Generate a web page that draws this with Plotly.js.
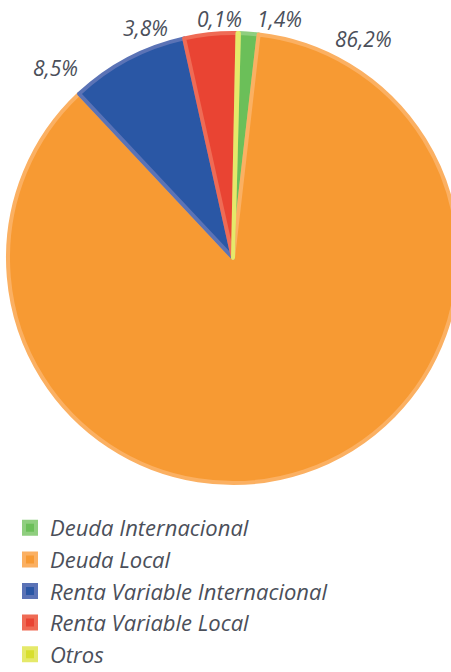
<!DOCTYPE html>
<html>
<head>
<meta charset="utf-8">
<script src="https://cdn.plot.ly/plotly-3.0.1.min.js"></script>
<style>
html,body{margin:0;padding:0;background:#fff;overflow:hidden;}
#chart{width:460px;height:690px;}
</style>
</head>
<body>
<div id="chart"></div>
<script>
const categories = ["Deuda Internacional", "Deuda Local", "Renta Variable Internacional", "Renta Variable Local", "Otros"];
const values = [1.4, 86.2, 8.5, 3.8, 0.1];
const colors = ["#6bbf59", "#f79a33", "#2a57a5", "#e94433", "#d8df2e"];
const borderColors = ["#8fce7f", "#fbb062", "#5b73b6", "#ef6b55", "#e5e96a"];

const labelText = values.map(v => v.toFixed(1).replace('.', ',') + '%');
// label anchor positions (pixels) for each slice label
const labelPos = [[279, 19], [363, 39], [55, 68], [145, 28], [219, 19]];

const W = 460, H = 690;
const txtColor = "#4b4f5a";
const fontFam = "'Open Sans', 'DejaVu Sans', sans-serif";

const trace = {
  type: "pie",
  labels: categories,
  values: values,
  sort: false,
  direction: "clockwise",
  rotation: 1.5,
  textinfo: "none",
  hoverinfo: "label+percent",
  marker: { colors: colors, line: { color: borderColors, width: 4 } },
  domain: { x: [8 / W, 458 / W], y: [1 - 483 / H, 1 - 33 / H] }
};

const annotations = labelText.map((t, i) => ({
  text: t,
  x: labelPos[i][0] / W,
  y: 1 - labelPos[i][1] / H,
  xref: "paper", yref: "paper",
  xanchor: "center", yanchor: "middle",
  showarrow: false,
  font: { family: fontFam, size: 21, color: txtColor, style: "italic", weight: 400 }
}));

const layout = {
  width: W, height: H,
  margin: { l: 0, r: 0, t: 0, b: 0, autoexpand: false },
  paper_bgcolor: "#ffffff",
  showlegend: true,
  legend: {
    x: 10 / W, y: 1 - 507 / H, xanchor: "left", yanchor: "top",
    orientation: "v",
    font: { family: fontFam, size: 22, color: txtColor, style: "italic", weight: 400 },
    bgcolor: "rgba(0,0,0,0)"
  },
  annotations: annotations
};

Plotly.newPlot("chart", [trace], layout, { displayModeBar: false, staticPlot: true });
</script>
</body>
</html>
